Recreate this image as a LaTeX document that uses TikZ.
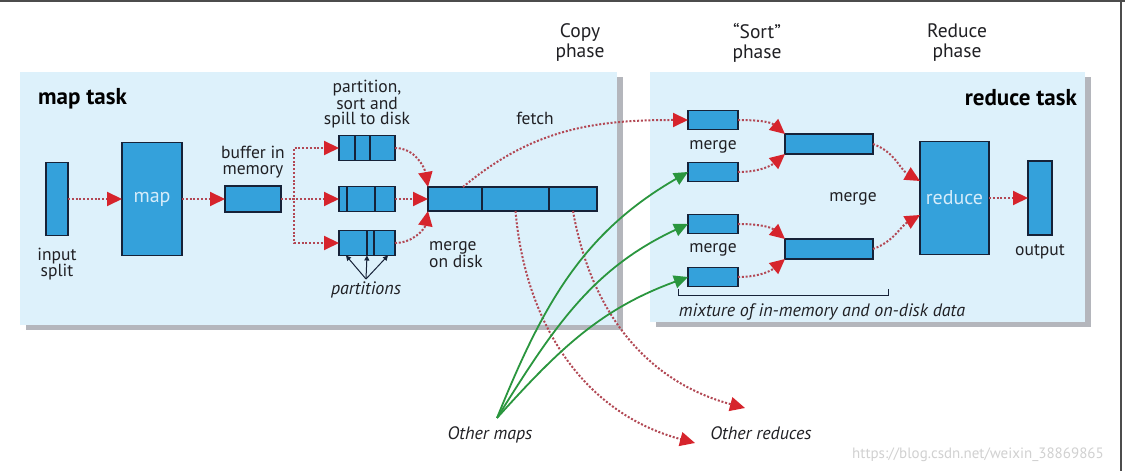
\documentclass[tikz,border=0pt]{standalone}
\usepackage{fontspec}
\setmainfont{PT Sans}
\usetikzlibrary{arrows.meta, positioning, calc}
\definecolor{panelbg}{RGB}{221, 241, 251}
\definecolor{boxblue}{RGB}{52, 161, 219}
\definecolor{boxline}{RGB}{22, 34, 56}
\definecolor{tipred}{RGB}{214, 36, 44}
\definecolor{dotred}{RGB}{178, 72, 84}
\definecolor{mapgreen}{RGB}{42, 150, 62}
\definecolor{inktext}{RGB}{32, 32, 36}
\definecolor{shadowgray}{RGB}{180, 182, 188}
\definecolor{boxtext}{RGB}{214, 236, 250}

\begin{document}
\begin{tikzpicture}[x=1pt, y=1pt,
  blk/.style={draw=boxline, fill=boxblue, line width=1.8pt, inner sep=0pt, outer sep=0pt},
  lbl/.style={font=\fontsize{17.5}{15.5}\selectfont, text=inktext, align=center, inner sep=0pt},
  ttl/.style={font=\fontsize{23}{24}\selectfont\bfseries, text=black, inner sep=0pt},
  phase/.style={font=\fontsize{19.5}{20}\selectfont, text=inktext, align=center, inner sep=0pt},
  note/.style={font=\fontsize{18}{18}\selectfont\itshape, text=inktext, inner sep=0pt},
  arr/.style={draw=dotred, line width=2pt, dash pattern=on 2pt off 1.8pt, -{Triangle[length=15pt, width=14pt, color=tipred]}},
  garr/.style={draw=mapgreen, line width=1.8pt, -{Triangle[length=14pt, width=13pt, color=mapgreen]}},
  parr/.style={draw=boxline, line width=1pt, -{Triangle[length=5pt, width=5pt]}}
]
  \fill[white] (0,0) rectangle (1125,471);
  \useasboundingbox (0,0) rectangle (1125,471);
  \draw[line width=2pt, black!70] (0,470) -- (1125,470);
  \draw[line width=2pt, black!70] (1121,0) -- (1121,471);

  \fill[shadowgray] (26,141) rectangle (623,394);
  \fill[panelbg] (20,146) rectangle (617,399);
  \fill[shadowgray] (656,144) rectangle (1091,394);
  \fill[panelbg] (650,149) rectangle (1085,399);

  \node[ttl, anchor=west] (maptitle) at (38,372) {map task};
  \node[ttl, anchor=east] (redtitle) at (1077,373) {reduce task};
  \node[phase] (copyph) at (580,428) {Copy\\phase};
  \node[phase] (sortph) at (757,428) {“Sort”\\phase};
  \node[phase] (redph) at (957,428) {Reduce\\phase};

  \node[blk, minimum width=22pt, minimum height=73pt] (isplit) at (57,272) {};
  \node[lbl, below=12pt of isplit] (isplitlbl) {input\\split};
  \node[blk, minimum width=60pt, minimum height=113pt, font=\fontsize{20}{20}\selectfont, text=boxtext] (mapbox) at (152,272) {map};
  \node[blk, minimum width=56pt, minimum height=26pt] (buf) at (253,272) {};
  \node[lbl, above=8pt of buf] (buflbl) {buffer in\\memory};
  \foreach \n/\y in {1/323, 2/272, 3/228}
    \node[blk, minimum width=56pt, minimum height=25pt] (sp\n) at (367,\y) {};
  \foreach \b/\dx in {sp1/-12, sp1/3, sp2/-20, sp2/8, sp3/0, sp3/7}
    \draw[boxline, line width=1.8pt] ([xshift=\dx pt]\b.north) -- ([xshift=\dx pt]\b.south);
  \node[lbl, above=7pt of sp1] (spilllbl) {partition,\\sort and\\spill to disk};
  \node[note] (partlbl) at (366,181) {partitions};
  \coordinate (papex) at (366,192);
  \node[blk, minimum width=54pt, minimum height=24pt] (m1) at (455,272) {};
  \node[blk, minimum width=67pt, minimum height=24pt, right=0pt of m1] (m2) {};
  \node[blk, minimum width=48pt, minimum height=24pt, right=0pt of m2] (m3) {};
  \node[lbl, anchor=west, align=left] (mdisk) at (429,216) {merge\\on disk};
  \node[lbl] (fetchlbl) at (535,353) {fetch};

  \foreach \n/\y in {1/351, 2/299, 3/247, 4/194}
    \node[blk, minimum width=50pt, minimum height=19pt] (r\n) at (713,\y) {};
  \node[lbl] (rmerge1) at (713,324) {merge};
  \node[lbl] (rmerge2) at (713,221) {merge};
  \node[blk, minimum width=88pt, minimum height=20pt] (mu) at (829,327) {};
  \node[blk, minimum width=88pt, minimum height=20pt] (ml) at (829,222) {};
  \node[lbl] (midmerge) at (853,272) {merge};
  \node[blk, minimum width=69pt, minimum height=113pt, font=\fontsize{20}{20}\selectfont, text=boxtext] (redbox) at (954.5,273) {reduce};
  \node[blk, minimum width=24pt, minimum height=74pt] (outbox) at (1040,273) {};
  \node[lbl, below=9pt of outbox] (outlbl) {output};
  \draw[boxline, line width=1pt] (678,182) -- (678,175) -- (888,175) -- (888,182);
  \node[note] (mixlbl) at (822,159) {mixture of in-memory and on-disk data};

  \node[note] (omaps) at (490,36) {Other maps};
  \node[note] (oreds) at (761,38) {Other reduces};
  \coordinate (gsrc) at (497,53);
  \coordinate (oredlow) at (695,28);
  \coordinate (oredup) at (745,63);
  \node[font=\fontsize{15}{15}\selectfont, text=black!18] (wmark) at (978,16) {https://blog.csdn.net/weixin\_38869865};

  \draw[arr] (isplit) -- (mapbox);
  \draw[arr] (mapbox) -- (buf);
  \draw[arr] (buf) -- (sp2);
  \draw[arr] (buf.east) -- ++(13,0) |- (sp1.west);
  \draw[arr] (buf.east) -- ++(13,0) |- (sp3.west);
  \draw[arr] (sp1.east) to[out=0, in=100] (m1.north west);
  \draw[arr] (sp2) -- (m1);
  \draw[arr] (sp3.east) to[out=0, in=-100] (m1.south west);
  \foreach \dx in {-21, 0, 21}
    \draw[parr] (papex) -- ([xshift=\dx pt]sp3.south);
  \draw[arr] ([xshift=8pt]m1.north) to[out=40, in=180] (r1.west);
  \draw[arr] (m2.south) to[out=-85, in=165] (oredlow);
  \draw[arr] (m3.south) to[out=-80, in=165] (oredup);
  \draw[garr] (gsrc) to[out=68, in=210] (r2.west);
  \draw[garr] (gsrc) to[out=58, in=205] (r3.west);
  \draw[garr] (gsrc) to[out=48, in=200] (r4.west);
  \draw[arr] (r1.east) to[out=0, in=140] (mu.north west);
  \draw[arr] (r2.east) to[out=0, in=-140] (mu.south west);
  \draw[arr] (r3.east) to[out=0, in=140] (ml.north west);
  \draw[arr] (r4.east) to[out=0, in=-140] (ml.south west);
  \draw[arr] (mu.east) to[out=-20, in=150] ([yshift=17pt]redbox.west);
  \draw[arr] (ml.east) to[out=20, in=-150] ([yshift=-17pt]redbox.west);
  \draw[arr] (redbox) -- (outbox);
\end{tikzpicture}
\end{document}
